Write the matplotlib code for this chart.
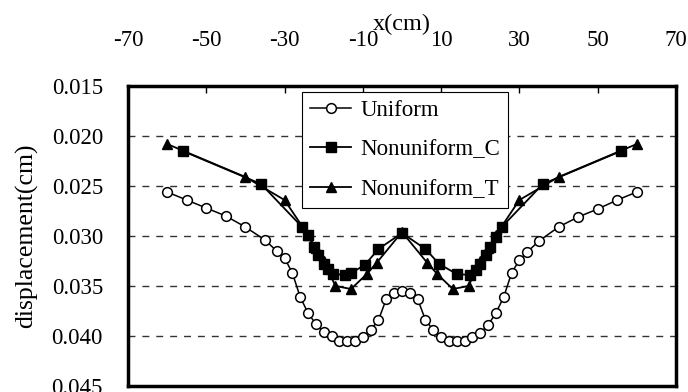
import matplotlib.pyplot as plt

# Uniform
x_uni = [-60, -55, -50, -45, -40, -35, -32, -30, -28, -26, -24, -22, -20, -18,
         -16, -14, -12, -10, -8, -6, -4, -2, 0, 2, 4, 6, 8, 10, 12, 14, 16, 18,
         20, 22, 24, 26, 28, 30, 32, 35, 40, 45, 50, 55, 60]
y_uni = [0.0256, 0.0264, 0.0272, 0.0280, 0.0291, 0.0304, 0.0315, 0.0322,
         0.0337, 0.0361, 0.0377, 0.0388, 0.0396, 0.0400, 0.0405, 0.0405,
         0.0405, 0.0401, 0.0394, 0.0384, 0.0363, 0.0357, 0.0355, 0.0357,
         0.0363, 0.0384, 0.0394, 0.0401, 0.0405, 0.0405, 0.0405, 0.0401,
         0.0397, 0.0389, 0.0377, 0.0361, 0.0337, 0.0324, 0.0316, 0.0305,
         0.0291, 0.0281, 0.0273, 0.0264, 0.0256]

# Nonuniform_C
x_c = [-56, -36, -25.5, -24, -22.5, -21.5, -20, -19, -17.5, -14.5, -13, -9.5,
       -6, 0, 6, 9.5, 14, 17.5, 19, 20, 21.5, 22.5, 24, 25.5, 36, 56]
y_c = [0.0215, 0.0248, 0.0291, 0.0299, 0.0311, 0.0319, 0.0328, 0.0333,
       0.0338, 0.0339, 0.0337, 0.0329, 0.0313, 0.0297, 0.0313, 0.0328,
       0.0338, 0.0339, 0.0334, 0.0328, 0.0319, 0.0311, 0.0301, 0.0291,
       0.0248, 0.0215]

# Nonuniform_T
x_t = [-60, -40, -30, -24, -22, -20, -17, -13, -9, -6.5, 0, 6.5, 9, 13, 17,
       20, 22, 24, 30, 40, 60]
y_t = [0.0208, 0.0241, 0.0264, 0.0299, 0.0312, 0.0325, 0.0350, 0.0353,
       0.0338, 0.0327, 0.0296, 0.0327, 0.0338, 0.0353, 0.0350, 0.0325,
       0.0312, 0.0299, 0.0264, 0.0241, 0.0208]

x_ticks = [-70, -50, -30, -10, 10, 30, 50, 70]
y_ticks = [0.015, 0.020, 0.025, 0.030, 0.035, 0.040, 0.045]


def main():
    """draw the displacement chart"""
    plt.rcParams["font.family"] = ["Liberation Serif", "DejaVu Serif"]
    plt.rcParams["font.size"] = 16.5
    plt.rcParams["axes.unicode_minus"] = False

    fig = plt.figure(figsize=(6.88, 3.92), dpi=100)
    ax = fig.add_axes([0.186, 0.0153, 0.7965, 0.7653])

    ax.plot(x_uni, y_uni, "-o", color="black", lw=1.1, ms=7,
            mfc="white", mec="black", mew=1.1, label="Uniform")
    ax.plot(x_c, y_c, "-s", color="black", lw=1.3, ms=7,
            mfc="black", label="Nonuniform_C")
    ax.plot(x_t, y_t, "-^", color="black", lw=1.3, ms=7,
            mfc="black", label="Nonuniform_T")

    ax.set_xlim(-70, 70)
    ax.set_ylim(0.045, 0.015)
    ax.set_xticks(x_ticks)
    ax.set_xticklabels([str(v) for v in x_ticks])
    ax.set_yticks(y_ticks)
    ax.set_yticklabels([f"{v:.3f}" for v in y_ticks])

    ax.xaxis.tick_top()
    ax.xaxis.set_label_position("top")
    ax.tick_params(axis="x", direction="in", length=5, width=1, pad=25)
    ax.tick_params(axis="y", length=0, pad=18)
    ax.set_xlabel("x(cm)", labelpad=0, fontsize=17.5)
    ax.set_ylabel("displacement(cm)", labelpad=10, fontsize=18.5)

    for v in y_ticks[1:-1]:
        ax.axhline(v, color="#333333", lw=1, ls=(0, (5, 5)), zorder=0)

    for s in ax.spines.values():
        s.set_linewidth(2.5)

    ax.legend(loc="upper left", bbox_to_anchor=(0.3175, 0.98),
              borderaxespad=0, fancybox=False, edgecolor="black",
              framealpha=1, handlelength=1.8, labelspacing=0.8,
              handletextpad=0.4, borderpad=0.35).get_frame().set_linewidth(0.8)

    fig.savefig("out.png", dpi=100)


if __name__ == "__main__":
    main()
